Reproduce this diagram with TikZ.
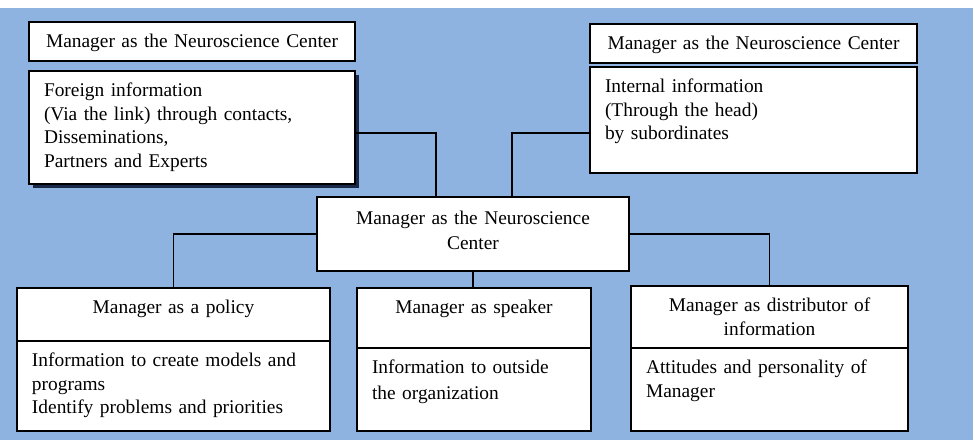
\documentclass[tikz,border=0pt]{standalone}
\usepackage{fontspec}
\setmainfont{Liberation Serif}
\usepackage{tikz}
\usetikzlibrary{positioning,shadows}

\definecolor{bgblue}{RGB}{142,179,225}
\definecolor{shadowblue}{RGB}{24,40,70}

\begin{document}
\begin{tikzpicture}[
    title/.style={rectangle, draw, fill=white, line width=0.7pt, outer sep=0pt,
                  inner xsep=4pt, inner ysep=0pt, text height=12.8pt, align=center,
                  font=\fontsize{9.7}{11.8}\selectfont},
    info/.style={title, inner xsep=7.5pt, align=left},
    link/.style={line width=0.7pt}]
    \useasboundingbox (0,0) rectangle (488.5pt,-220pt);
    \fill[bgblue] (0,-4pt) rectangle (486.5pt,-220pt);
    \node[title, text width=155pt, text depth=6.7pt] (tlhead) at (96pt,-20.75pt)
          {Manager as the Neuroscience Center};
    \node[info, text width=148pt, text depth=43.7pt, below=5pt of tlhead,
          drop shadow={shadow xshift=2pt, shadow yshift=-2pt, fill=shadowblue, opacity=1}] (foreign)
          {Foreign information\\(Via the link) through contacts,\\Disseminations,\\Partners and Experts};
    \node[title, text width=155.5pt, text depth=6.7pt] (trhead) at (376.75pt,-21.75pt)
          {Manager as the Neuroscience Center};
    \node[info, text width=148.5pt, text depth=40.2pt, below=2pt of trhead] (internal)
          {Internal information\\(Through the head)\\by subordinates};
    \node[title, text width=148pt, text height=13.5pt, text depth=23.5pt,
          font=\fontsize{9.7}{12.8}\selectfont] (hub) at (236.5pt,-117pt)
          {Manager as the Neuroscience\\Center};
    \node[title, text width=148.5pt, text depth=13.7pt] (policy) at (86.75pt,-157.25pt)
          {Manager as a policy};
    \node[info, text width=141.5pt, text depth=32.2pt, below=0pt of policy] (policyinfo)
          {Information to create models and\\programs\\Identify problems and priorities};
    \node[title, text width=109pt, text depth=17.2pt] (speaker) at (237pt,-159pt)
          {Manager as speaker};
    \node[info, text width=102pt, text depth=28.7pt, below=0pt of speaker,
          font=\fontsize{9.7}{12.7}\selectfont] (speakerinfo)
          {Information to outside\\the organization};
    \node[title, text width=130.5pt, text depth=18.2pt] (distrib) at (384.75pt,-158.5pt)
          {Manager as distributor of\\information};
    \node[info, text width=123.5pt, text depth=28.7pt, below=0pt of distrib] (distribinfo)
          {Attitudes and personality of\\Manager};
    \draw[link] ([yshift=-2.75pt]foreign.east) -| ([xshift=-18.5pt]hub.north);
    \draw[link] ([yshift=-6.5pt]internal.west) -| ([xshift=19.5pt]hub.north);
    \draw[link] (hub.west) -| (policy.north);
    \draw[link] (hub.south) -- (hub.south |- speaker.north);
    \draw[link] (hub.east) -| (distrib.north);
\end{tikzpicture}
\end{document}
